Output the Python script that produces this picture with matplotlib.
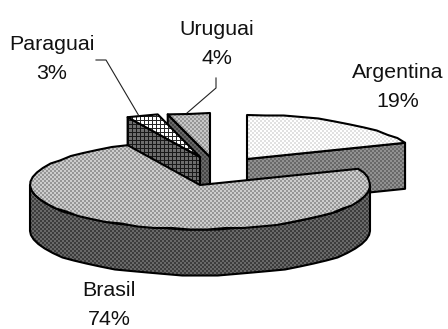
# -*- coding: utf-8 -*-
# Torta 3D con sectores separados y relleno de trama
import numpy as np
import matplotlib
matplotlib.use("Agg")
import matplotlib.pyplot as plt
from matplotlib.patches import Polygon

paises = ["Argentina", "Brasil", "Paraguai", "Uruguai"]
porcentajes = [19, 74, 3, 4]

plt.rcParams['font.family'] = ['Liberation Sans', 'DejaVu Sans']

W, H = 448, 329
RX, RY, ALTO = 170, 44, 46

fig = plt.figure(figsize=(W / 100, H / 100), dpi=100)
ax = fig.add_axes([0, 0, 1, 1])
ax.set_xlim(0, W)
ax.set_ylim(H, 0)
ax.axis('off')

# angulos de cada sector, desde las 12 en sentido horario
angulos = {}
ini = 90.0
for p, v in zip(paises, porcentajes):
    fin = ini - v * 3.6
    angulos[p] = (ini, fin)
    ini = fin

# centro de cada sector (cara superior), por la separacion
centros = {"Argentina": (247, 159), "Uruguai": (210, 157),
           "Paraguai": (200, 157), "Brasil": (200, 185)}


def borde(c, a0, a1, paso=6.0):
    # puntos del arco, algo escalonados
    n = max(int(abs(a1 - a0) / paso), 1)
    t = np.radians(np.linspace(a0, a1, n + 1))
    y = c[1] - RY * np.sin(t)
    y[1:-1] = np.round(y[1:-1] / 1.5) * 1.5
    return np.column_stack([c[0] + RX * np.cos(t), y])


def punto(c, a):
    return borde(c, a, a, 1)[0]


def trama(gris_a, gris_b, celda, reticula=False):
    # baldosa de trama a nivel de pixel
    yy, xx = np.indices((H, W))
    if reticula:
        m = (xx % celda == 0) | (yy % celda == 0)
    else:
        m = ((xx // celda + yy // celda) % 2 == 0)
    return np.where(m, gris_a, gris_b).astype(float)


def cara(xy, img, zorder, lw=1.5):
    pol = Polygon(xy, closed=True, fc='none', ec='black', lw=lw,
                  joinstyle='round', zorder=zorder + 0.5)
    ax.add_patch(pol)
    im = ax.imshow(img, cmap='gray', vmin=0, vmax=255, extent=(0, W, H, 0),
                   interpolation='nearest', zorder=zorder, aspect='auto')
    im.set_clip_path(pol)


def corte(c, a):
    r = punto(c, a)
    return [c, r, (r[0], r[1] + ALTO), (c[0], c[1] + ALTO)]


def tapa(c, a0, a1):
    return np.vstack([[c], borde(c, a0, a1)])


# Argentina
c = centros["Argentina"]
a0, a1 = angulos["Argentina"]
cara(corte(c, a1), trama(105, 145, 2), 1)
cara(tapa(c, a0, a1), trama(225, 255, 2), 2)

# Uruguai
c = centros["Uruguai"]
a0, a1 = angulos["Uruguai"]
cara(corte(c, a0), trama(70, 105, 2), 3)
cara(tapa(c, a0, a1), trama(150, 200, 2), 4)

# Paraguai
c = centros["Paraguai"]
a0, a1 = angulos["Paraguai"]
cara(corte(c, a0), trama(25, 110, 4, True), 6)
cara(tapa(c, a0, a1), trama(40, 255, 4, True), 7)

# Brasil: lado exterior y luego la cara superior
c = centros["Brasil"]
a0, a1 = angulos["Brasil"]
arco = borde(c, -180, 0)
lado = np.vstack([arco, (arco + [0, ALTO])[::-1]])
cara(lado, trama(60, 105, 2), 8)
cara(tapa(c, a0, a1), trama(150, 205, 2), 9)

# lineas guia
ax.plot([96, 106, 139], [60, 60, 116], color='#222222', lw=0.8, zorder=20)
ax.plot([216, 216, 187], [78, 88, 113], color='#222222', lw=0.8, zorder=20)

# etiquetas
pos = {"Argentina": (398, 87), "Uruguai": (217, 44),
       "Paraguai": (52, 59), "Brasil": (109, 305)}
for p, v in zip(paises, porcentajes):
    ax.text(pos[p][0], pos[p][1], "%s\n%d%%" % (p, v), ha='center', va='center',
            fontsize=15.4, linespacing=1.62, color='#111111', zorder=30)

fig.savefig("out.png", dpi=100)
